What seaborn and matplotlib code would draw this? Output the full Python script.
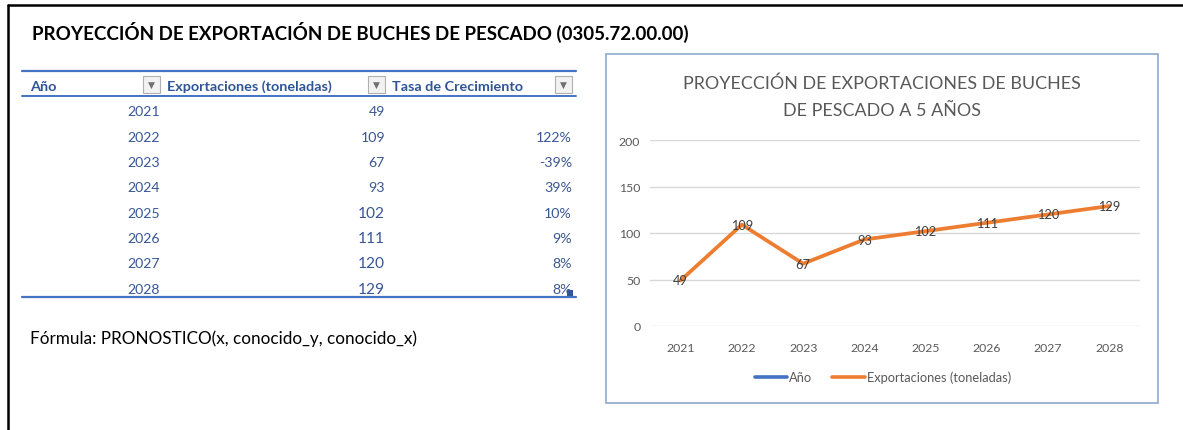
import matplotlib
matplotlib.use("Agg")
import matplotlib.pyplot as plt
import seaborn as sns
import pandas as pd
from matplotlib.lines import Line2D
from matplotlib.patches import Rectangle

# ---- data ----
years = [2021, 2022, 2023, 2024, 2025, 2026, 2027, 2028]
exports = [49, 109, 67, 93, 102, 111, 120, 129]
growth = ["", "122%", "-39%", "39%", "10%", "9%", "8%", "8%"]
col_headers = ["Año", "Exportaciones (toneladas)", "Tasa de Crecimiento"]
main_title = "PROYECCIÓN DE EXPORTACIÓN DE BUCHES DE PESCADO (0305.72.00.00)"
chart_title = "PROYECCIÓN DE EXPORTACIONES DE BUCHES\nDE PESCADO A 5 AÑOS"
formula = "Fórmula: PRONOSTICO(x, conocido_y, conocido_x)"
yticks = [0, 50, 100, 150, 200]

sns.set_theme(style="white")
plt.rcParams["font.family"] = ["Lato", "DejaVu Sans"]

W, H = 1183, 431
fig = plt.figure(figsize=(W / 100, H / 100), dpi=100)
fig.patch.set_facecolor("white")

def fx(x):
    return x / W

def fy(y):
    return 1 - y / H

def hline(x0, x1, y, color, lw):
    fig.add_artist(Line2D([fx(x0), fx(x1)], [fy(y), fy(y)], color=color, lw=lw,
                          transform=fig.transFigure))

def vline(x, y0, y1, color, lw):
    fig.add_artist(Line2D([fx(x), fx(x)], [fy(y0), fy(y1)], color=color, lw=lw,
                          transform=fig.transFigure))

# outer frame (top and left)
hline(8, W, 6, "black", 1.8)
vline(8, 6, H, "black", 1.8)

# main title
fig.text(fx(32), fy(32), main_title, fontsize=13.5, fontweight="bold",
         color="black", ha="left", va="center")

# ---- table ----
blue_line = "#4472C4"
hdr_col = "#2F5597"
val_col = "#3A5794"
hline(22, 576, 72, blue_line, 1.6)
hline(22, 576, 97, blue_line, 1.4)
hline(22, 576, 298, blue_line, 1.6)

hdr_x = [30, 167, 392]
for x, t in zip(hdr_x, col_headers):
    fig.text(fx(x), fy(87), t, fontsize=10.4, fontweight="bold", color=hdr_col,
             ha="left", va="center")
for bx in [143, 368, 555]:
    fig.add_artist(Rectangle((fx(bx), fy(94)), 17 / W, 17 / H, transform=fig.transFigure,
                             facecolor="#F2F2F2", edgecolor="#B0B0B0", lw=0.8))
    fig.text(fx(bx + 8.5), fy(85.5), "▼", fontsize=6.5, color="#707070",
             ha="center", va="center", family="DejaVu Sans")

row_y0, row_dy = 112.5, 25.3
for i, (yr, ex, g) in enumerate(zip(years, exports, growth)):
    y = row_y0 + i * row_dy
    fs_big = 11.2 if i >= 4 else 10.2
    fig.text(fx(160), fy(y), str(yr), fontsize=10.2, color=val_col, ha="right", va="center")
    fig.text(fx(385), fy(y), str(ex), fontsize=fs_big, color=val_col, ha="right", va="center")
    if g:
        fig.text(fx(572), fy(y), g, fontsize=10.2, color=val_col, ha="right", va="center")
fig.add_artist(Rectangle((fx(567), fy(297)), 6 / W, 6 / H, transform=fig.transFigure,
                         facecolor="#2F5597", edgecolor="none"))

fig.text(fx(30), fy(339), formula, fontsize=12.3, color="black", ha="left", va="center")

# ---- chart box ----
fig.add_artist(Rectangle((fx(606), fy(404)), (1158 - 606) / W, (404 - 55) / H,
                         transform=fig.transFigure, facecolor="none",
                         edgecolor="#8FAACC", lw=1.2, zorder=-1))
fig.text(fx(882), fy(97), chart_title, fontsize=12.9, color="#595959",
         ha="center", va="center", linespacing=1.88)

ax = fig.add_axes([fx(650), fy(327), (1140 - 650) / W, (327 - 141) / H])
ax.set_facecolor("none")
df = pd.DataFrame({"idx": range(len(years)), "exp": exports})
sns.lineplot(data=df, x="idx", y="exp", ax=ax, color="#ED7D31", lw=2.7, legend=False)
ax.set_ylim(0, 200)
ax.set_xlim(-0.5, 7.5)
ax.set_yticks(yticks)
ax.set_xticks(range(len(years)))
ax.set_xticklabels([str(y) for y in years])
ax.grid(axis="y", color="#D9D9D9", lw=1)
ax.grid(axis="x", visible=False)
ax.set_axisbelow(True)
for s in ax.spines.values():
    s.set_visible(False)
ax.tick_params(axis="both", length=0, colors="#595959", labelsize=8.8)
ax.tick_params(axis="y", pad=7)
ax.tick_params(axis="x", pad=11.5)
ax.set_xlabel("")
ax.set_ylabel("")
for i, v in enumerate(exports):
    ax.text(i, v, str(v), fontsize=9.2, color="#404040", ha="center", va="center")

handles = [Line2D([], [], color="#4472C4", lw=2.6),
           Line2D([], [], color="#ED7D31", lw=2.6)]
fig.legend(handles, ["Año", "Exportaciones (toneladas)"], loc="center",
           bbox_to_anchor=(fx(883), fy(378)), ncol=2, frameon=False,
           fontsize=9.3, labelcolor="#595959", handlelength=2.5,
           handletextpad=0.15, columnspacing=1.55)

fig.savefig("out.png", dpi=100)
